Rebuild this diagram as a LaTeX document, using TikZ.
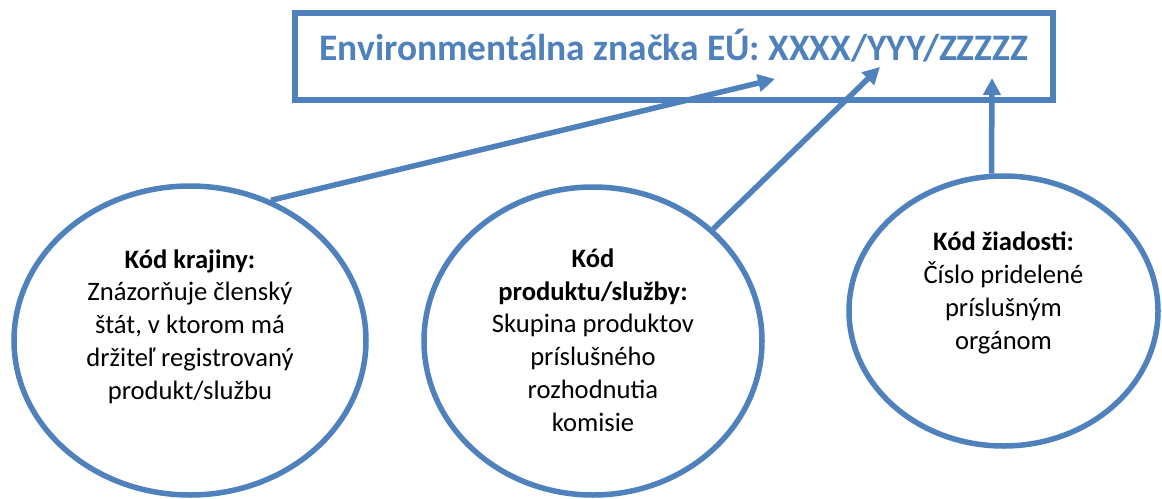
\documentclass[tikz,border=0pt]{standalone}
\usepackage{fontspec}
\setmainfont{Carlito}
\usepackage{tikz}
\usetikzlibrary{shapes.geometric,arrows.meta,positioning,calc}
\definecolor{officeblue}{RGB}{79,129,189}

\begin{document}
\begin{tikzpicture}[
    x=1pt, y=-1pt,
    >={Triangle[length=17pt,width=17pt]},
    titlebox/.style={
        rectangle, draw=officeblue, line width=6.5pt,
        minimum width=758pt, minimum height=87pt,
        text=officeblue, font=\fontsize{37.4}{44}\selectfont\bfseries,
        text height=23.5pt, text depth=16.5pt
    },
    bubble/.style={ellipse, draw=officeblue, line width=5.5pt, inner sep=0pt},
    bubbletext/.style={align=center, font=\fontsize{26.6}{32.75}\selectfont},
    arrow/.style={->, draw=officeblue, line width=5.5pt}
]
\useasboundingbox (0,0) rectangle (1162,498);

% top: the label with its three parts
\node[titlebox] (label) at (674,56.5) {Environmentálna značka EÚ: XXXX/YYY/ZZZZZ};

% bottom: one bubble per part
\node[bubble, minimum width=352pt, minimum height=309pt] (country) at (190,340.5) {};
\node[bubble, minimum width=338pt, minimum height=308pt] (product) at (593,341) {};
\node[bubble, minimum width=309pt, minimum height=270pt] (request) at (1003.5,311) {};

\node[bubbletext, yshift=14pt] (countrytext) at (country.center)
    {\textbf{Kód krajiny:}\\Znázorňuje členský\\štát, v ktorom má\\držiteľ registrovaný\\produkt/službu};
\node[bubbletext, yshift=1pt] (producttext) at (product.center)
    {\textbf{Kód}\\\textbf{produktu/služby:}\\Skupina produktov\\príslušného\\rozhodnutia\\komisie};
\node[bubbletext, yshift=18pt] (requesttext) at (request.center)
    {\textbf{Kód žiadosti:}\\Číslo pridelené\\príslušným\\orgánom};

% arrow tips inside the label
\coordinate (xtip) at (775,79);
\coordinate (ytip) at (880,67);
\coordinate (ztip) at (992,78);

% arrows
\draw[arrow] (country.60) -- (xtip);
\draw[arrow] (product.43) -- (ytip);
\draw[arrow] (request.95) -- (ztip);

\end{tikzpicture}
\end{document}
